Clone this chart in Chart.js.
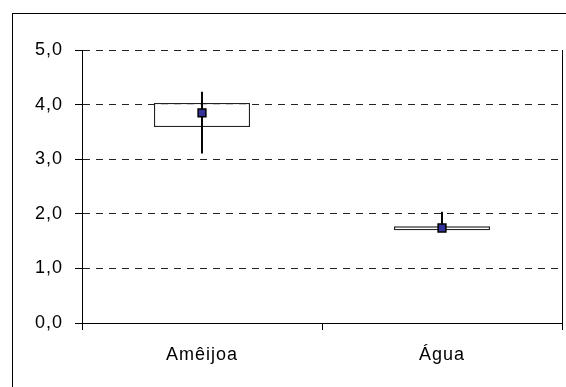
<!DOCTYPE html>
<html>
<head>
<meta charset="utf-8">
<script src="https://cdn.jsdelivr.net/npm/chart.js@4/dist/chart.umd.min.js"></script>
<style>
  body { margin: 0; background: #fff; }
  #frame { position: absolute; left: 12px; top: 13px; width: 560px; height: 380px; border: 1px solid #000; }
</style>
</head>
<body>
<div id="frame"><canvas id="chart" width="560" height="374"></canvas></div>
<script>
// values
const categories = ["Amêijoa", "Água"];
const boxLow = [3.59, 1.70];
const boxHigh = [4.03, 1.77];
const whiskerLow = [3.11, 1.70];
const whiskerHigh = [4.23, 2.03];
const means = [3.85, 1.74];

function fmt(v) {
    return v.toFixed(1).replace(".", ",");
}

const ctx = document.getElementById("chart").getContext("2d");
Chart.defaults.font.family = "'Liberation Sans', Arial, sans-serif";
Chart.defaults.font.size = 18;
Chart.defaults.color = "#000";

// old Excel text is slightly spaced out
const spacing = {
    id: "spacing",
    beforeDraw(chart) { chart.ctx.letterSpacing = "1px"; }
};

new Chart(ctx, {
    type: "bar",
    data: {
        labels: categories,
        datasets: [
            {
                type: "line",
                data: means,
                showLine: false,
                pointStyle: "rect",
                pointRadius: 5.5,
                pointBackgroundColor: "#333399",
                pointBorderColor: "#000",
                pointBorderWidth: 1.5,
                order: 0
            },
            {
                data: whiskerLow.map((v, i) => [v, whiskerHigh[i]]),
                backgroundColor: "#000",
                borderWidth: 0,
                barThickness: 1.3,
                grouped: false,
                order: 1
            },
            {
                data: boxLow.map((v, i) => [v, boxHigh[i]]),
                backgroundColor: "#fff",
                borderColor: "#222",
                borderWidth: 1.3,
                borderSkipped: false,
                barPercentage: 0.4,
                categoryPercentage: 1,
                grouped: false,
                order: 2
            }
        ]
    },
    plugins: [spacing],
    options: {
        responsive: false,
        animation: false,
        layout: { padding: { top: 36, right: 11, left: 0, bottom: 0 } },
        plugins: { legend: { display: false }, tooltip: { enabled: false } },
        scales: {
            x: {
                grid: { offset: true, drawOnChartArea: false, tickLength: 7, color: "#000" },
                border: { color: "#000", width: 1 },
                ticks: { padding: 14 },
                afterFit: s => { s.height = 65; }
            },
            y: {
                min: 0,
                max: 5,
                ticks: { stepSize: 1, padding: 12, callback: v => fmt(v) },
                grid: {
                    color: c => c.tick && c.tick.value === 0 ? "rgba(0,0,0,0)" : "#222",
                    tickColor: "#000",
                    tickBorderDash: [],
                    tickLength: 7
                },
                border: { color: "#000", width: 1, dash: [7, 6] },
                afterFit: s => { s.width = 69; }
            },
            y2: {
                position: "right",
                min: 0,
                max: 5,
                ticks: { display: false },
                grid: { drawOnChartArea: false, drawTicks: false },
                border: { color: "#000", width: 1 },
                afterFit: s => { s.width = 0; }
            }
        }
    }
});
</script>
</body>
</html>
